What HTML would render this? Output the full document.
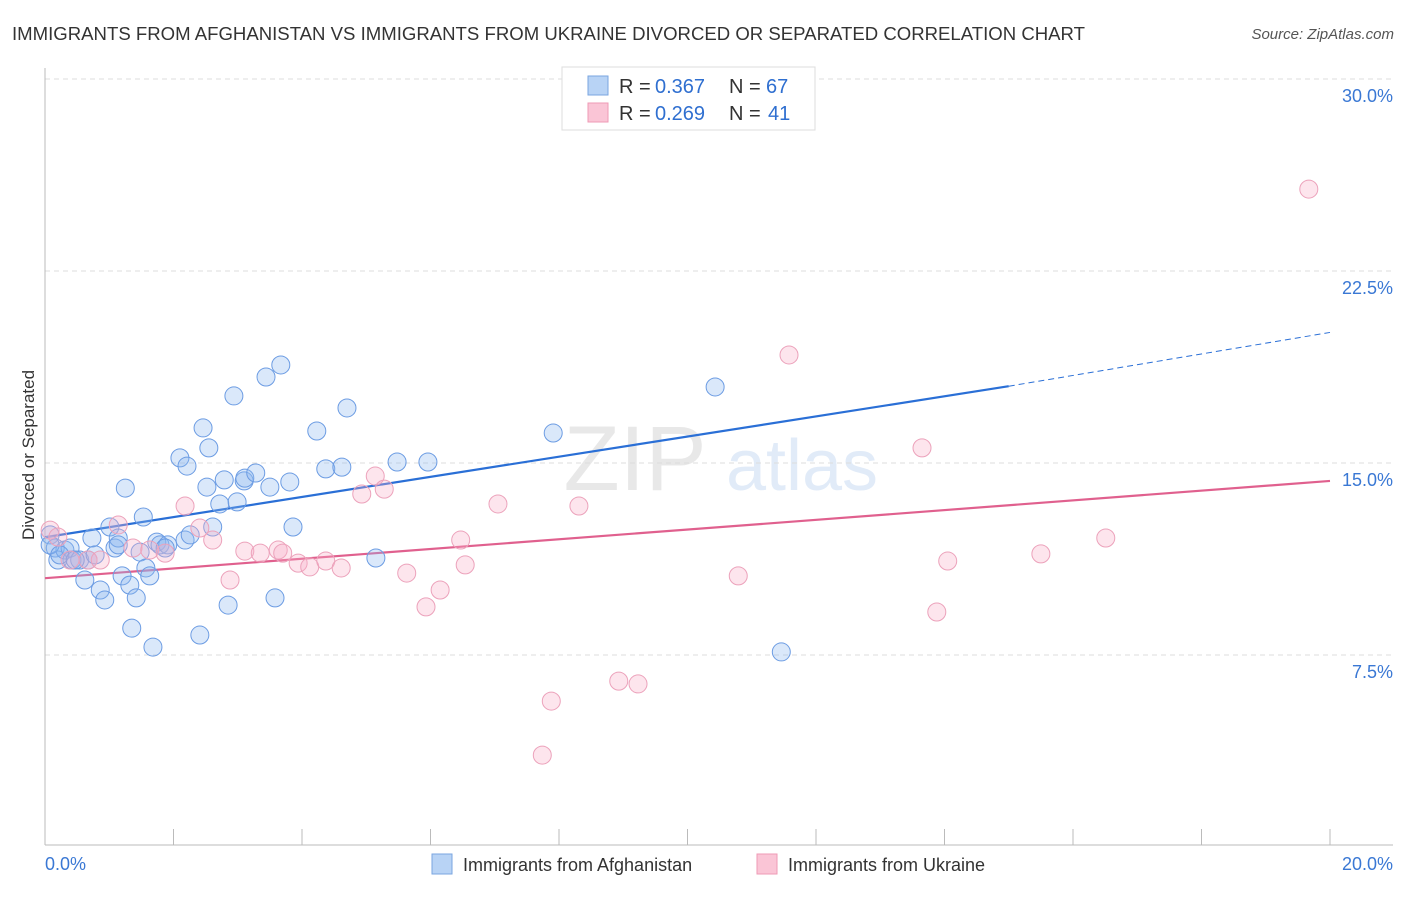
<!DOCTYPE html>
<html><head><meta charset="utf-8"><style>
body{margin:0;background:#fff;font-family:"Liberation Sans",sans-serif;}
svg text{font-family:"Liberation Sans",sans-serif;}
</style></head><body>
<svg id="chart" width="1406" height="892" viewBox="0 0 1406 892" xmlns="http://www.w3.org/2000/svg">
<text x="12" y="40" font-size="18" fill="#333" textLength="1073" lengthAdjust="spacingAndGlyphs">IMMIGRANTS FROM AFGHANISTAN VS IMMIGRANTS FROM UKRAINE DIVORCED OR SEPARATED CORRELATION CHART</text>
<text x="1394" y="39" font-size="15" fill="#555" text-anchor="end" font-style="italic">Source: ZipAtlas.com</text>
<g opacity="0.22">
<text x="635" y="490" font-size="92" fill="#999" text-anchor="middle" font-family="Liberation Serif">ZIP</text>
<text x="802" y="490" font-size="72" fill="#7aa6e0" text-anchor="middle">atlas</text>
</g>
<g id="grid"></g>
<g id="axes"></g>
<g id="lines"></g>
<g id="pts"></g>
<text transform="translate(34,455) rotate(-90)" font-size="17" fill="#333" text-anchor="middle">Divorced or Separated</text>
<g>
<rect x="562" y="67" width="253" height="63" fill="#fff" stroke="#ddd"/>
<rect x="588" y="76" width="20" height="19" fill="#b8d3f5" stroke="#7aa6e0"/>
<rect x="588" y="103" width="20" height="19" fill="#fac5d6" stroke="#ef9ab5"/>
<text x="619" y="93" font-size="20" fill="#333">R =</text>
<text x="655" y="93" font-size="20" fill="#2f6fd0">0.367</text>
<text x="729" y="93" font-size="20" fill="#333">N =</text>
<text x="766" y="93" font-size="20" fill="#2f6fd0">67</text>
<text x="619" y="120" font-size="20" fill="#333">R =</text>
<text x="655" y="120" font-size="20" fill="#2f6fd0">0.269</text>
<text x="729" y="120" font-size="20" fill="#333">N =</text>
<text x="768" y="120" font-size="20" fill="#2f6fd0">41</text>
</g>
<g>
<rect x="432" y="854" width="20" height="20" fill="#b8d3f5" stroke="#7aa6e0"/>
<text x="463" y="871" font-size="18" fill="#333">Immigrants from Afghanistan</text>
<rect x="757" y="854" width="20" height="20" fill="#fac5d6" stroke="#ef9ab5"/>
<text x="788" y="871" font-size="18" fill="#333">Immigrants from Ukraine</text>
</g>
</svg>
<script>
const xTicks=[0,2,4,6,8,10,12,14,16,18,20];
const yTicks=[7.5,15,22.5,30];
const yTickLabels=["7.5%","15.0%","22.5%","30.0%"];
const xEndLabels=["0.0%","20.0%"];
const afgX=[0.08,0.16,0.20,0.31,0.39,0.42,0.54,0.62,0.67,0.73,0.78,0.86,0.93,1.01,1.09,1.14,1.20,1.25,1.32,1.35,1.42,1.48,1.53,1.57,1.63,1.68,1.74,1.79,1.91,2.10,2.18,2.21,2.26,2.41,2.46,2.52,2.55,2.61,2.72,2.79,2.85,2.94,2.99,3.10,3.11,3.28,3.44,3.50,3.58,3.67,3.81,3.86,4.23,4.37,4.62,4.70,5.15,5.48,5.96,7.91,10.43,11.46,0.08,0.23,0.47,1.87,1.14];
const afgY=[12.19,11.68,11.21,11.60,11.68,11.21,11.21,10.43,11.21,12.07,11.41,10.04,9.65,12.5,11.68,12.07,10.59,14.02,10.23,8.55,9.73,11.52,12.89,10.90,10.59,7.81,11.91,11.80,11.80,15.20,11.99,14.88,12.19,8.28,16.37,14.06,15.59,12.5,13.40,14.34,9.45,17.62,13.48,14.30,14.41,14.61,18.36,14.06,9.73,18.83,14.26,12.5,16.25,14.77,14.84,17.15,11.29,15.04,15.04,16.17,17.97,7.62,11.80,11.41,11.21,11.68,11.80];
const ukrX=[0.08,0.20,0.39,0.67,0.86,1.14,1.37,1.63,1.87,2.18,2.41,2.61,2.88,3.11,3.35,3.63,3.70,3.94,4.12,4.37,4.61,4.93,5.14,5.28,5.63,5.93,6.15,6.47,6.54,7.05,7.74,7.88,8.31,8.93,9.23,10.79,11.58,13.65,13.88,14.05,15.50,16.51,19.67];
const ukrY=[12.38,12.11,11.21,11.21,11.21,12.58,11.68,11.60,11.48,13.32,12.46,11.99,10.43,11.56,11.48,11.60,11.48,11.09,10.94,11.17,10.90,13.79,14.49,13.98,10.70,9.38,10.04,11.99,11.02,13.40,3.59,5.70,13.32,6.48,6.37,10.59,19.22,15.59,9.18,11.17,11.45,12.07,25.70];
const afgTrend=[[0,12.1],[15,18.0],[20,20.1]];
const ukrTrend=[[0,10.5],[20,14.3]];
const NS="http://www.w3.org/2000/svg";
const sx=v=>45+v*64.25, sy=v=>847-v*25.6;
function mk(tag,attrs,parent){const e=document.createElementNS(NS,tag);for(const k in attrs)e.setAttribute(k,attrs[k]);parent.appendChild(e);return e;}
const grid=document.getElementById('grid'),axes=document.getElementById('axes'),lines=document.getElementById('lines'),pts=document.getElementById('pts');
yTicks.forEach((t,i)=>{
 const l=mk('line',{x1:45,x2:1393,y1:sy(t),y2:sy(t),stroke:'#ddd','stroke-dasharray':'5,4'},grid);
 
 
 const tx=mk('text',{x:1393,y:sy(t)+23,'font-size':18,fill:'#3a78d4','text-anchor':'end'},axes);
 tx.textContent=yTickLabels[i];
 
 
});
const ya=mk('line',{x1:45,x2:45,y1:68,y2:845,stroke:'#bbb'},axes);


const xa=mk('line',{x1:45,x2:1393,y1:845,y2:845,stroke:'#bbb'},axes);


xTicks.forEach(t=>{
 const l=mk('line',{x1:sx(t),x2:sx(t),y1:829,y2:845,stroke:'#bbb'},axes);
 
 
});
[[0,'start'],[20,'end']].forEach((p,i)=>{
 const tx=mk('text',{x:i?1393:45,y:870,'font-size':18,fill:'#3a78d4','text-anchor':p[1]},axes);
 tx.textContent=xEndLabels[i];
 
 
});
function pts2(xs,ys,fill,stroke,name){
 xs.forEach((x,i)=>{
  const c=mk('circle',{cx:sx(x),cy:sy(ys[i]),r:9,fill:fill,stroke:stroke,'stroke-width':1},pts);
  
  
 });
}
pts2(afgX,afgY,'rgba(140,185,240,0.32)','#6c9ce3','afghanistan-point');
pts2(ukrX,ukrY,'rgba(248,175,200,0.32)','#eca2bb','ukraine-point');
const b1=mk('line',{x1:sx(afgTrend[0][0]),y1:sy(afgTrend[0][1]),x2:sx(afgTrend[1][0]),y2:sy(afgTrend[1][1]),stroke:'#2a6fd6','stroke-width':2.2},lines);


const b2=mk('line',{x1:sx(afgTrend[1][0]),y1:sy(afgTrend[1][1]),x2:sx(afgTrend[2][0]),y2:sy(afgTrend[2][1]),stroke:'#2a6fd6','stroke-width':1,'stroke-dasharray':'6,4'},lines);


const p1=mk('line',{x1:sx(ukrTrend[0][0]),y1:sy(ukrTrend[0][1]),x2:sx(ukrTrend[1][0]),y2:sy(ukrTrend[1][1]),stroke:'#e0608e','stroke-width':2.2},lines);


</script>
</body></html>
